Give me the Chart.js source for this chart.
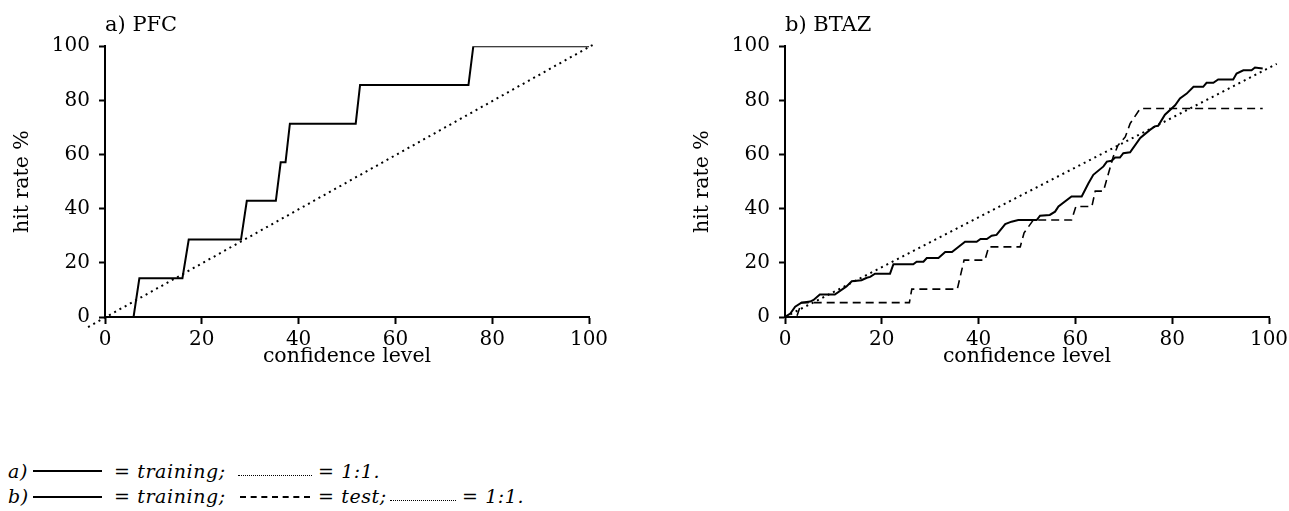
<!DOCTYPE html>
<html>
<head>
<meta charset="utf-8">
<script src="https://cdn.jsdelivr.net/npm/chart.js@4.4.1/dist/chart.umd.min.js"></script>
<style>
  html, body { margin: 0; padding: 0; background: #fff; overflow: hidden; }
  body { width: 1289px; height: 511px; position: relative; }
  .panel { position: absolute; top: 0; width: 620px; height: 380px; }
  #panelA { left: 0; }
  #panelB { left: 680px; }
  .key { position: absolute; font-family: "DejaVu Serif", serif; font-style: italic;
         font-size: 19px; letter-spacing: 0.6px; line-height: 20px; color: #000; white-space: nowrap; }
  .solid { position: absolute; height: 0; border-top: 2px solid #000; }
  .dashed { position: absolute; height: 0; border-top: 2px dashed #000; }
  .dotted { position: absolute; height: 0; border-top: 1px dotted #000; }
</style>
</head>
<body>
<div class="panel" id="panelA"><canvas id="chartA" width="620" height="380"></canvas></div>
<div class="panel" id="panelB"><canvas id="chartB" width="620" height="380"></canvas></div>

<!-- key under the charts -->
<span class="key" style="left:8px; top:461px;">a)</span>
<div class="solid" style="left:33px; top:470px; width:69px;"></div>
<span class="key" style="left:114px; top:461px;">= training;</span>
<div class="dotted" style="left:238px; top:475px; width:74px;"></div>
<span class="key" style="left:318px; top:461px;">= 1:1.</span>

<span class="key" style="left:8px; top:486px;">b)</span>
<div class="solid" style="left:33px; top:496px; width:69px;"></div>
<span class="key" style="left:114px; top:486px;">= training;</span>
<div class="dashed" style="left:240px; top:496px; width:70px;"></div>
<span class="key" style="left:318px; top:486px;">= test;</span>
<div class="dotted" style="left:390px; top:500px; width:66px;"></div>
<span class="key" style="left:462px; top:486px;">= 1:1.</span>

<script>
const xTicks = [0, 20, 40, 60, 80, 100];
const yTicks = [0, 20, 40, 60, 80, 100];

// a) PFC
const pfcTrainX = [0, 5.9, 7.1, 16.0, 17.3, 28.1, 29.3, 35.3, 36.3, 37.3, 38.2, 51.8, 52.7, 75.1, 76.1, 100];
const pfcTrainY = [0, 0, 14.3, 14.3, 28.6, 28.6, 42.9, 42.9, 57.1, 57.1, 71.4, 71.4, 85.7, 85.7, 100, 100];
const pfcRefX = [-3.5, 101];
const pfcRefY = [-3.7, 100.7];

// b) BTAZ
const btazTrainX = [0, 1.1, 2.1, 3.4, 5.2, 5.9, 7.2, 10.3, 12.7, 13.8, 15.8, 16.9, 17.6, 18.6, 21.7, 22.4,
  26.5, 27.2, 28.6, 29.3, 31.7, 33.1, 34.5, 37.2, 39.6, 40.4, 41.7, 42.7, 43.7, 45.5, 46.8, 48.2,
  52.0, 52.7, 54.7, 55.8, 56.5, 59.2, 61.3, 62.7, 63.7, 65.8, 66.5, 67.5, 68.2, 69.2, 69.9, 71.3,
  73.4, 75.4, 76.4, 77.1, 78.5, 80.6, 81.6, 83.0, 84.4, 86.4, 87.1, 88.5, 89.5, 92.6, 93.3, 94.7,
  96.4, 97.1, 98.7];
const btazTrainY = [0, 1.3, 3.8, 5.3, 5.7, 6.3, 8.3, 8.3, 11.3, 13.2, 13.6, 14.5, 14.8, 16.0, 16.0, 19.5,
  19.5, 20.4, 20.4, 21.8, 21.8, 24.0, 24.0, 27.8, 27.8, 28.8, 28.8, 30.0, 30.3, 34.3, 35.2, 35.8,
  35.8, 37.4, 37.7, 38.9, 40.8, 44.5, 44.5, 49.4, 52.5, 55.6, 57.4, 57.7, 58.9, 58.9, 60.5, 60.8,
  66.1, 69.1, 70.4, 70.6, 74.7, 78.2, 80.7, 82.5, 85.0, 85.0, 86.5, 86.5, 87.7, 87.7, 89.9, 91.1,
  91.1, 92.1, 91.8];
const btazTestX = [0, 2.4, 3.4, 25.7, 26.2, 35.6, 37.0, 41.3, 42.1, 48.6, 49.4, 51.3, 59.2, 60.1, 63.4,
  64.1, 65.8, 67.8, 68.8, 70.3, 71.3, 73.4, 98.7];
const btazTestY = [0, 0, 5.3, 5.3, 10.3, 10.3, 21.0, 21.0, 25.9, 25.9, 31.1, 35.8, 35.8, 40.8, 40.8,
  46.5, 46.5, 59.1, 63.4, 66.5, 71.4, 77.0, 77.0];
const btazRefX = [0, 101.6];
const btazRefY = [0, 93.5];

const FONT = 'DejaVu Serif';

function pts(xs, ys) {
  return xs.map((x, i) => ({ x: x, y: ys[i] }));
}

function lineSet(xs, ys, dash, width) {
  return {
    data: pts(xs, ys),
    borderColor: '#000',
    borderWidth: width,
    borderDash: dash,
    pointRadius: 0,
    tension: 0,
    fill: false
  };
}

function makeChart(canvasId, title, datasets) {
  new Chart(document.getElementById(canvasId).getContext('2d'), {
    type: 'line',
    data: { datasets: datasets },
    options: {
      responsive: false,
      animation: false,
      layout: { padding: { left: 0, right: 31, top: 0, bottom: 0 } },
      plugins: {
        legend: { display: false },
        tooltip: { enabled: false },
        title: {
          display: true,
          text: title,
          align: 'start',
          fullSize: false,
          color: '#000',
          font: { family: FONT, size: 21, weight: 'normal' },
          padding: { top: 13, bottom: 8 }
        }
      },
      scales: {
        x: {
          type: 'linear',
          min: 0,
          max: 100,
          afterBuildTicks: s => { s.ticks = xTicks.map(v => ({ value: v })); },
          afterFit: s => { s.height = 63; },
          ticks: { color: '#000', padding: 4, maxRotation: 0, font: { family: FONT, size: 20 } },
          grid: { drawOnChartArea: false, tickLength: 7, tickWidth: 2, color: '#000' },
          border: { color: '#000', width: 2 },
          title: {
            display: true,
            text: 'confidence level',
            color: '#000',
            font: { family: FONT, size: 20.5 },
            padding: { top: 0, bottom: 11 }
          }
        },
        y: {
          type: 'linear',
          min: 0,
          max: 100,
          afterBuildTicks: s => { s.ticks = yTicks.map(v => ({ value: v })); },
          afterFit: s => { s.width = 105; },
          ticks: { color: '#000', padding: 9, font: { family: FONT, size: 20 } },
          grid: { drawOnChartArea: false, tickLength: 6, tickWidth: 2, color: '#000' },
          border: { color: '#000', width: 2 },
          title: {
            display: true,
            text: 'hit rate %',
            color: '#000',
            font: { family: FONT, size: 20.5 },
            padding: { top: 10, bottom: 0 }
          }
        }
      }
    }
  });
}

const refA = lineSet(pfcRefX, pfcRefY, [2, 4], 2);
refA.clip = false;
makeChart('chartA', 'a) PFC', [
  lineSet(pfcTrainX, pfcTrainY, [], 2),
  refA
]);

const refB = lineSet(btazRefX, btazRefY, [2, 4], 2);
refB.clip = false;
makeChart('chartB', 'b) BTAZ', [
  lineSet(btazTrainX, btazTrainY, [], 2),
  lineSet(btazTestX, btazTestY, [8, 5], 1.6),
  refB
]);
</script>
</body>
</html>
